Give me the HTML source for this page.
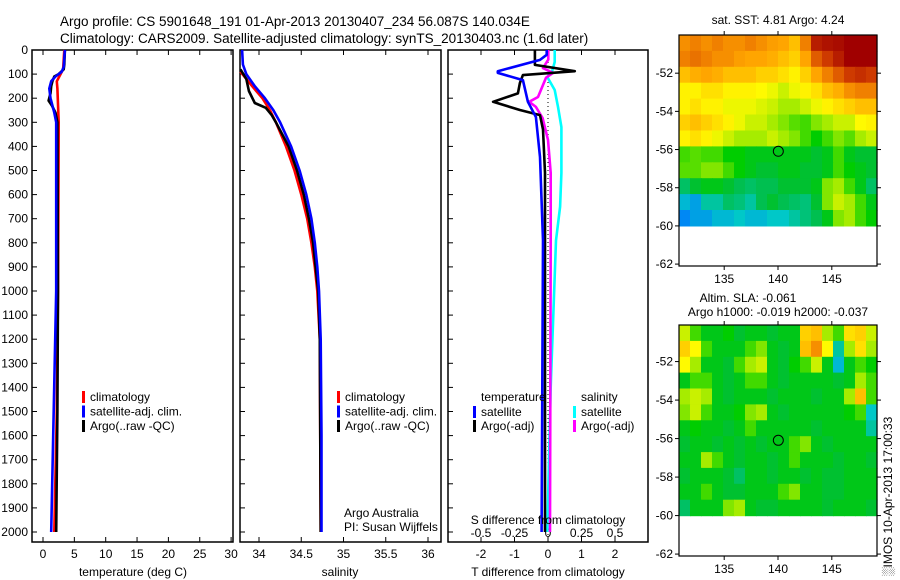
<!DOCTYPE html>
<html><head><meta charset="utf-8">
<style>
body{margin:0;background:#fff;}
svg{display:block;font-family:"Liberation Sans",sans-serif;}
</style></head>
<body>
<svg id="fig" width="900" height="580" viewBox="0 0 900 580">
<text x="60" y="26" font-size="13.5">Argo profile: CS 5901648_191 01-Apr-2013 20130407_234 56.087S 140.034E</text>
<text x="60" y="43" font-size="13.5">Climatology: CARS2009. Satellite-adjusted climatology: synTS_20130403.nc (1.6d later)</text>
</svg>
<script>
// ---------- DATA ----------
const depthTicks=[0,100,200,300,400,500,600,700,800,900,1000,1100,1200,1300,1400,1500,1600,1700,1800,1900,2000];
const tempTicks=[0,5,10,15,20,25,30];
const salTicks=[34,34.5,35,35.5,36];
const salTickLabels=["34","34.5","35","35.5","36"];
const tdiffTicks=[-2,-1,0,1,2];
const sdiffTicks=[-0.5,-0.25,0,0.25,0.5];
const sdiffTickLabels=["-0.5","-0.25","0","0.25","0.5"];
// temperature profiles [depth, value]
const tempClim=[[0,3.4],[80,3.2],[110,2.6],[130,2.2],[160,2.3],[300,2.5],[1000,2.4],[1500,2.2],[2000,1.8]];
const tempSat=[[0,3.5],[70,3.3],[90,3.0],[110,2.0],[130,1.3],[160,1.0],[200,1.2],[260,1.8],[300,2.1],[1000,2.1],[1500,1.7],[2000,1.3]];
const tempArgo=[[0,3.5],[60,3.4],[80,3.3],[100,2.5],[110,1.8],[130,1.5],[150,1.3],[180,1.2],[210,0.9],[230,1.4],[260,2.0],[300,2.3],[1000,2.4],[1500,2.3],[2000,2.1]];
// salinity profiles
const salClim=[[90,33.78],[150,33.92],[200,34.04],[250,34.13],[300,34.2],[400,34.32],[500,34.42],[600,34.5],[700,34.57],[800,34.62],[900,34.66],[1000,34.69],[1200,34.72],[2000,34.73]];
const salSat=[[0,33.8],[60,33.81],[100,33.85],[150,33.95],[200,34.07],[250,34.17],[300,34.25],[400,34.38],[500,34.48],[600,34.56],[700,34.62],[800,34.66],[900,34.69],[1000,34.71],[1200,34.73],[1600,34.74],[2000,34.74]];
const salArgo=[[80,33.78],[120,33.85],[170,33.88],[220,33.95],[240,34.08],[270,34.15],[300,34.2],[400,34.35],[500,34.45],[600,34.53],[700,34.59],[800,34.64],[900,34.67],[1000,34.7],[1200,34.72],[2000,34.73]];
// difference profiles
const tdiffSat=[[0,-0.04],[20,-0.04],[41,-0.24],[88,-1.5],[95,-1.5],[125,-0.75],[215,-0.6],[278,-0.36],[444,-0.24],[790,-0.15],[2000,-0.19]];
const tdiffArgo=[[0,-0.39],[62,-0.39],[88,0.8],[104,-0.75],[137,-0.84],[180,-0.9],[215,-1.64],[249,-0.84],[270,-0.24],[330,-0.15],[510,-0.09],[2000,-0.09]];
const sdiffArgo=[[0,0.002],[40,0.002],[75,-0.037],[95,0.037],[115,-0.015],[195,-0.075],[215,-0.14],[236,-0.09],[282,-0.04],[373,0],[510,0.02],[790,0.02],[2000,0.015]];
const sdiffSat=[[0,0.05],[50,0.05],[90,0.03],[112,-0.005],[166,0.05],[236,0.075],[320,0.1],[510,0.1],[650,0.09],[790,0.06],[1400,0.02],[2000,-0.005]];
// maps
const mapLonTicks=[135,140,145];
const mapLatTicks=[-52,-54,-56,-58,-60,-62];
const argoLon=140.03, argoLat=-56.09;
const sstGrid=[
[.78,.8,.78,.8,.78,.78,.8,.78,.76,.75,.72,.8,.95,.97,.98,1,1,1],
[.8,.82,.8,.78,.78,.76,.75,.75,.74,.72,.7,.75,.85,.9,.95,1,1,1],
[.72,.74,.75,.74,.72,.72,.72,.7,.7,.68,.66,.7,.75,.8,.85,.9,.92,.9],
[.66,.66,.68,.68,.66,.66,.66,.65,.64,.62,.64,.66,.68,.72,.74,.78,.8,.8],
[.66,.68,.66,.66,.64,.64,.64,.63,.62,.6,.6,.62,.64,.66,.68,.7,.72,.72],
[.7,.72,.7,.68,.66,.64,.62,.62,.6,.58,.56,.55,.58,.6,.62,.62,.65,.66],
[.66,.68,.66,.64,.62,.6,.6,.6,.62,.6,.58,.55,.52,.55,.58,.56,.6,.62],
[.55,.56,.55,.55,.52,.52,.5,.5,.5,.5,.5,.5,.48,.5,.55,.5,.48,.48],
[.56,.56,.58,.58,.55,.52,.5,.48,.48,.5,.5,.48,.48,.5,.55,.52,.5,.48],
[.45,.48,.5,.5,.48,.46,.45,.46,.46,.48,.48,.48,.5,.58,.6,.55,.5,.45],
[.38,.35,.42,.42,.45,.44,.42,.46,.48,.46,.45,.44,.48,.58,.62,.6,.55,.5],
[.32,.35,.35,.38,.38,.4,.38,.38,.4,.4,.42,.44,.46,.5,.58,.6,.55,.52]];
const slaGrid=[
[.62,.55,.5,.5,.52,.48,.5,.5,.48,.5,.5,.7,.72,.6,.55,.68,.7,.62],
[.7,.65,.55,.5,.5,.5,.55,.58,.5,.48,.5,.72,.78,.65,.42,.6,.68,.6],
[.65,.6,.5,.5,.48,.55,.6,.62,.5,.48,.52,.55,.62,.5,.38,.5,.55,.52],
[.5,.55,.55,.5,.48,.5,.55,.55,.5,.48,.5,.5,.5,.5,.48,.5,.6,.55],
[.6,.62,.6,.5,.48,.5,.5,.5,.48,.5,.5,.5,.48,.5,.5,.6,.72,.55],
[.58,.62,.55,.5,.5,.52,.58,.6,.5,.48,.5,.5,.5,.5,.5,.52,.55,.4],
[.5,.52,.5,.5,.48,.5,.55,.5,.5,.5,.5,.5,.48,.5,.5,.5,.5,.42],
[.48,.5,.5,.48,.5,.48,.5,.48,.5,.5,.55,.58,.5,.48,.5,.5,.5,.5],
[.5,.5,.6,.55,.5,.48,.5,.5,.48,.5,.55,.5,.5,.5,.48,.5,.5,.48],
[.48,.5,.5,.5,.48,.45,.5,.5,.48,.5,.5,.48,.5,.48,.48,.5,.5,.5],
[.5,.5,.55,.5,.48,.48,.5,.5,.5,.55,.58,.5,.5,.48,.48,.5,.5,.5],
[.45,.5,.5,.5,.58,.6,.5,.48,.48,.5,.5,.5,.5,.48,.5,.5,.5,.48]];

// ---------- DRAW ----------
const NS="http://www.w3.org/2000/svg";
const svg=document.getElementById('fig');
function mk(tag,attrs,parent){const e=document.createElementNS(NS,tag);for(const k in attrs)e.setAttribute(k,attrs[k]);(parent||svg).appendChild(e);return e;}
function txt(x,y,s,anchor,size,parent){const t=mk('text',{x:x,y:y,'text-anchor':anchor||'middle','font-size':size||12},parent);t.textContent=s;return t;}

const top0=50, ppm=0.241, bot=542;
const yD=d=>top0+d*ppm;
function linX(v0,v1,p0,p1){return v=>p0+(v-v0)*(p1-p0)/(v1-v0);}

const panels=[
 {name:'temperature-panel',x0:32,x1:233,sx:linX(0,30,43,231.1)},
 {name:'salinity-panel',x0:240,x1:441,sx:linX(34,36,259,428)},
 {name:'difference-panel',x0:448,x1:648,sx:linX(-2,2,481,615)}
];
panels.forEach((p,i)=>{
  const g=mk('g',{});
  
  
  p.g=g;
  const r=mk('rect',{x:p.x0,y:top0,width:p.x1-p.x0,height:bot-top0,fill:'none',stroke:'#000','stroke-width':1.5},g);
  
  
  depthTicks.forEach(d=>{mk('line',{x1:p.x0,x2:p.x0+5,y1:yD(d),y2:yD(d),stroke:'#000'},g);});
});
depthTicks.forEach(d=>{const t=txt(28,yD(d)+4,String(d),'end',12);
 
 });

function xticks(p,vals,labels,y){vals.forEach((v,i)=>{const x=p.sx(v);
 mk('line',{x1:x,x2:x,y1:top0,y2:top0+5,stroke:'#000'},p.g);
 mk('line',{x1:x,x2:x,y1:bot,y2:bot-5,stroke:'#000'},p.g);
 const t=txt(x,y,labels[i],'middle',12,p.g);
 
 });}
xticks(panels[0],tempTicks,tempTicks.map(String),558);
xticks(panels[1],salTicks,salTickLabels,558);
xticks(panels[2],tdiffTicks,tdiffTicks.map(String),558);
let xl;
xl=txt(133,576,'temperature (deg C)','middle',12);
xl=txt(340,576,'salinity','middle',12);
xl=txt(548,576,'T difference from climatology','middle',12);
const sx2=linX(-0.5,0.5,481,615);
sdiffTicks.forEach((v,i)=>{const t=txt(sx2(v),537,sdiffTickLabels[i],'middle',12,panels[2].g);
 
 });
xl=txt(548,524,'S difference from climatology','middle',12);
mk('line',{x1:panels[2].sx(0),x2:panels[2].sx(0),y1:top0,y2:bot,stroke:'#000','stroke-dasharray':'1,3'},panels[2].g);

function stepLine(p,data,sx,color,name){
  const d=data.map((pt,i)=>(i?'L':'M')+sx(pt[1]).toFixed(1)+','+yD(pt[0]).toFixed(1)).join(' ');
  const l=mk('path',{d:d,fill:'none',stroke:color,'stroke-width':2.6,'stroke-linejoin':'round'},p.g);
  
  
}
stepLine(panels[0],tempClim,panels[0].sx,'#f00','temp-climatology-line');
stepLine(panels[0],tempArgo,panels[0].sx,'#000','temp-argo-line');
stepLine(panels[0],tempSat,panels[0].sx,'#00f','temp-satellite-line');
stepLine(panels[1],salClim,panels[1].sx,'#f00','sal-climatology-line');
stepLine(panels[1],salArgo,panels[1].sx,'#000','sal-argo-line');
stepLine(panels[1],salSat,panels[1].sx,'#00f','sal-satellite-line');
stepLine(panels[2],sdiffSat,sx2,'#0ff','sdiff-satellite-line');
stepLine(panels[2],sdiffArgo,sx2,'#f0f','sdiff-argo-line');
stepLine(panels[2],tdiffArgo,panels[2].sx,'#000','tdiff-argo-line');
stepLine(panels[2],tdiffSat,panels[2].sx,'#00f','tdiff-satellite-line');

function legend(x,y,color,label,g){
  mk('rect',{x:x-2,y:y-9,width:3,height:12,fill:color},g);
  const t=txt(x+6,y+1,label,'start',12,g);
  
  
}
[[0,'#f00','climatology'],[1,'#00f','satellite-adj. clim.'],[2,'#000','Argo(..raw -QC)']].forEach(e=>{
 legend(84,400+e[0]*14.5,e[1],e[2],panels[0].g);
 legend(339,400+e[0]*14.5,e[1],e[2],panels[1].g);
});
txt(481,401,'temperature','start',12,panels[2].g);
txt(581,401,'salinity','start',12,panels[2].g);
legend(475,415,'#00f','satellite',panels[2].g);
legend(475,429,'#000','Argo(-adj)',panels[2].g);
legend(575,415,'#0ff','satellite',panels[2].g);
legend(575,429,'#f0f','Argo(-adj)',panels[2].g);
xl=txt(344,517,'Argo Australia','start',12);
xl=txt(344,531,'PI: Susan Wijffels','start',12);

// ---------- MAPS ----------
const cmapStops=[[0,[0,0,150]],[0.3,[0,120,255]],[0.4,[0,200,200]],[0.47,[0,190,60]],[0.52,[0,205,0]],[0.58,[130,230,0]],[0.65,[255,250,0]],[0.75,[255,165,0]],[0.88,[215,70,0]],[1,[160,0,0]]];
function cmap(v){v=Math.max(0,Math.min(1,v));
 for(let i=1;i<cmapStops.length;i++){if(v<=cmapStops[i][0]){const a=cmapStops[i-1],b=cmapStops[i];const t=(v-a[0])/(b[0]-a[0]);
  const c=a[1].map((x,k)=>Math.round(x+(b[1][k]-x)*t));return `rgb(${c[0]},${c[1]},${c[2]})`;}}
 return 'rgb(160,0,0)';}
function drawMap(name,box,grid,latTop){
  const g=mk('g',{});
  
  
  const sx=linX(box.lon0,box.lon1,box.x0,box.x1);
  const sy=linX(box.lat0,box.lat1,box.y0,box.y1);
  const rows=grid.length, cols=grid[0].length;
  const dlon=(box.lon1-box.lon0)/cols, dlat=(latTop-(-60))/rows;
  grid.forEach((row,ri)=>row.forEach((v,ci)=>{
    const x=sx(box.lon0+ci*dlon), x2=sx(box.lon0+(ci+1)*dlon);
    const y=sy(latTop-ri*dlat), y2=sy(latTop-(ri+1)*dlat);
    const c=mk('rect',{x:x.toFixed(1),y:y.toFixed(1),width:(x2-x+0.6).toFixed(1),height:(y2-y+0.6).toFixed(1),fill:cmap(v)},g);
    
    
  }));
  mk('rect',{x:box.x0,y:box.y0,width:box.x1-box.x0,height:box.y1-box.y0,fill:'none',stroke:'#000','stroke-width':1.2},g);
  mapLatTicks.forEach(l=>{const y=sy(l);
    mk('line',{x1:box.x0,x2:box.x0-4,y1:y,y2:y,stroke:'#000'},g);
    mk('line',{x1:box.x1,x2:box.x1+4,y1:y,y2:y,stroke:'#000'},g);
    const t=txt(box.x0-6,y+4,String(l),'end',12,g);
    
    });
  mapLonTicks.forEach(l=>{const x=sx(l);
    mk('line',{x1:x,x2:x,y1:box.y0,y2:box.y0-4,stroke:'#000'},g);
    mk('line',{x1:x,x2:x,y1:box.y1,y2:box.y1+4,stroke:'#000'},g);
    const t=txt(x,box.y1+17,String(l),'middle',12,g);
    
    });
  const c=mk('circle',{cx:sx(argoLon),cy:sy(argoLat),r:5,fill:'none',stroke:'#000','stroke-width':1},g);
  
  
}
drawMap('sst-map',{x0:679,x1:877,y0:35,y1:266,lon0:130.8,lon1:149.2,lat0:-50.0,lat1:-62.1},sstGrid,-50.0);
drawMap('sla-map',{x0:679,x1:877,y0:325,y1:556,lon0:130.8,lon1:149.2,lat0:-50.1,lat1:-62.1},slaGrid,-50.1);
xl=txt(778,24,'sat. SST: 4.81  Argo: 4.24','middle',12);
xl=txt(748,302,'Altim. SLA: -0.061','middle',12);
xl=txt(778,316,'Argo h1000: -0.019 h2000: -0.037','middle',12);
xl=txt(0,0,'\u2591IMOS 10-Apr-2013 17:00:33','start',12);
xl.setAttribute('transform','translate(892,576) rotate(-90)');


</script>
</body></html>
